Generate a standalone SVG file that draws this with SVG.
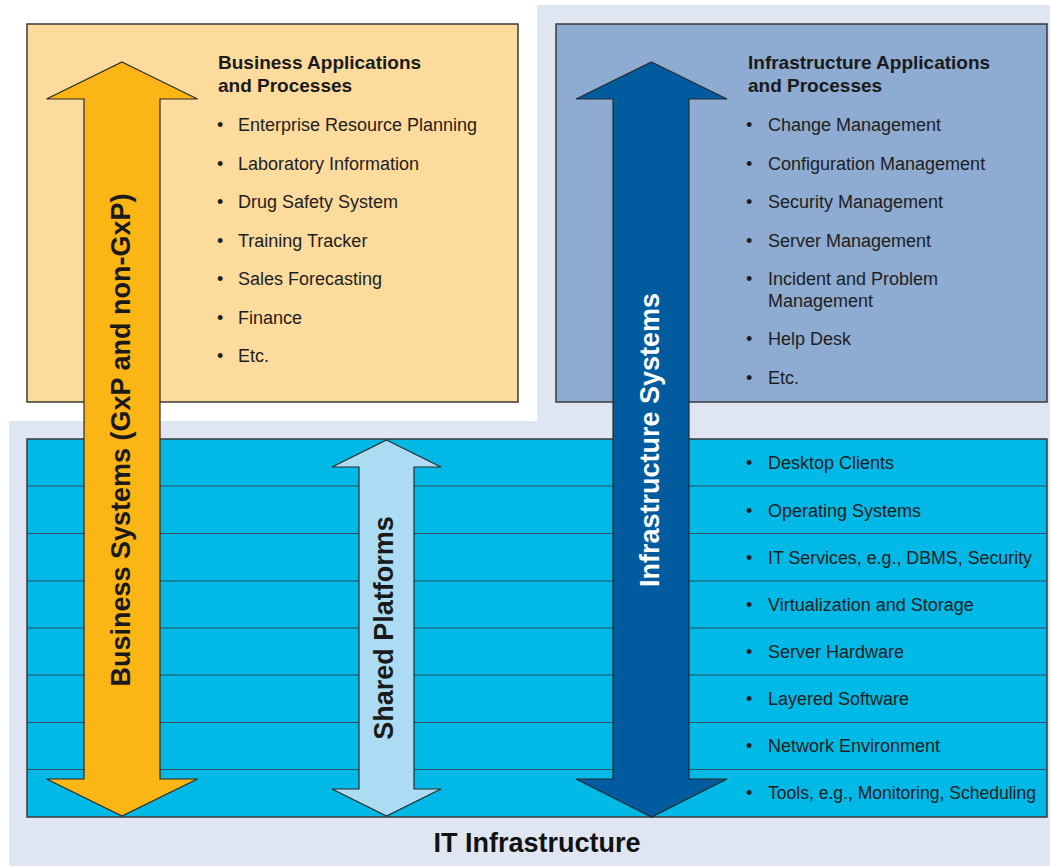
<svg xmlns="http://www.w3.org/2000/svg" width="1050" height="866" viewBox="0 0 1050 866">
<style>
.box{stroke:#3a3a3a;stroke-width:1.5}
.row{stroke:#2f4f5f;stroke-width:1.2;fill:none}
.arrow{stroke:#2a2a2a;stroke-width:1.2;stroke-linejoin:miter}
.title{font-family:"Liberation Sans",Arial,sans-serif;font-weight:bold;font-size:19px;fill:#1a1a1a}
.item{font-family:"Liberation Sans",Arial,sans-serif;font-size:18px;fill:#1e1e1e}
.vlabel{font-family:"Liberation Sans",Arial,sans-serif;font-weight:bold;font-size:27px;text-anchor:middle}
.bottom{font-family:"Liberation Sans",Arial,sans-serif;font-weight:bold;font-size:27px;fill:#111;text-anchor:middle}
</style>
<rect width="1050" height="866" fill="#ffffff"/>
<polygon points="9,421 537,421 537,5 1050,5 1050,866 9,866" fill="#dfe6f1"/>

<g id="business-box">
<rect class="box" x="27" y="24" width="491" height="378" fill="#fddb9d"/>
<text class="title"><tspan x="218" y="69">Business Applications</tspan><tspan x="218" y="92">and Processes</tspan></text>
<g class="item">
<text x="217" y="131">•</text><text x="238" y="131">Enterprise Resource Planning</text>
<text x="217" y="169.5">•</text><text x="238" y="169.5">Laboratory Information</text>
<text x="217" y="208">•</text><text x="238" y="208">Drug Safety System</text>
<text x="217" y="246.5">•</text><text x="238" y="246.5">Training Tracker</text>
<text x="217" y="285">•</text><text x="238" y="285">Sales Forecasting</text>
<text x="217" y="323.5">•</text><text x="238" y="323.5">Finance</text>
<text x="217" y="362">•</text><text x="238" y="362">Etc.</text>
</g>
</g>

<g id="infra-apps-box">
<rect class="box" x="556" y="24" width="491" height="378" fill="#8eabd2"/>
<text class="title"><tspan x="748" y="69">Infrastructure Applications</tspan><tspan x="748" y="92">and Processes</tspan></text>
<g class="item">
<text x="746" y="131">•</text><text x="768" y="131">Change Management</text>
<text x="746" y="169.5">•</text><text x="768" y="169.5">Configuration Management</text>
<text x="746" y="208">•</text><text x="768" y="208">Security Management</text>
<text x="746" y="246.5">•</text><text x="768" y="246.5">Server Management</text>
<text x="746" y="285">•</text><text x="768" y="285">Incident and Problem</text>
<text x="768" y="306.5">Management</text>
<text x="746" y="345">•</text><text x="768" y="345">Help Desk</text>
<text x="746" y="383.5">•</text><text x="768" y="383.5">Etc.</text>
</g>
</g>

<g id="it-infrastructure">
<rect class="box" x="27" y="439" width="1020" height="378" fill="#00b9e6"/>
<g class="row">
<line x1="27" y1="486" x2="1047" y2="486"/>
<line x1="27" y1="533.5" x2="1047" y2="533.5"/>
<line x1="27" y1="581" x2="1047" y2="581"/>
<line x1="27" y1="628" x2="1047" y2="628"/>
<line x1="27" y1="675" x2="1047" y2="675"/>
<line x1="27" y1="722.5" x2="1047" y2="722.5"/>
<line x1="27" y1="769.5" x2="1047" y2="769.5"/>
</g>
<g class="item">
<text x="746" y="469">•</text><text x="768" y="469">Desktop Clients</text>
<text x="746" y="516.5">•</text><text x="768" y="516.5">Operating Systems</text>
<text x="746" y="564">•</text><text x="768" y="564" textLength="264" lengthAdjust="spacingAndGlyphs">IT Services, e.g., DBMS, Security</text>
<text x="746" y="611">•</text><text x="768" y="611">Virtualization and Storage</text>
<text x="746" y="658">•</text><text x="768" y="658">Server Hardware</text>
<text x="746" y="705">•</text><text x="768" y="705">Layered Software</text>
<text x="746" y="752">•</text><text x="768" y="752">Network Environment</text>
<text x="746" y="799">•</text><text x="768" y="799" textLength="268" lengthAdjust="spacingAndGlyphs">Tools, e.g., Monitoring, Scheduling</text>
</g>
<text class="bottom" x="537" y="852">IT Infrastructure</text>
</g>

<g id="connectors">
<g id="business-systems-arrow">
<polygon class="arrow" fill="#fbb515" points="122,62 197.5,99 160,99 160,779 197.5,779 122,816 46.5,779 84,779 84,99 46.5,99"/>
<text class="vlabel" fill="#1a1a1a" transform="translate(130,440) rotate(-90)">Business Systems (GxP and non-GxP)</text>
</g>
<g id="shared-platforms-arrow">
<polygon class="arrow" fill="#abdcf3" points="386.5,440 441,467 414,467 414,789 441,789 386.5,816 332,789 359,789 359,467 332,467"/>
<text class="vlabel" fill="#1a1a1a" transform="translate(393,628) rotate(-90)">Shared Platforms</text>
</g>
<g id="infrastructure-systems-arrow">
<polygon class="arrow" fill="#005b9f" points="651.5,62 727,99 689,99 689,779 727,779 651.5,817 576,779 613,779 613,99 576,99"/>
<text class="vlabel" fill="#ffffff" transform="translate(659,440) rotate(-90)">Infrastructure Systems</text>
</g>
</g>
</svg>
